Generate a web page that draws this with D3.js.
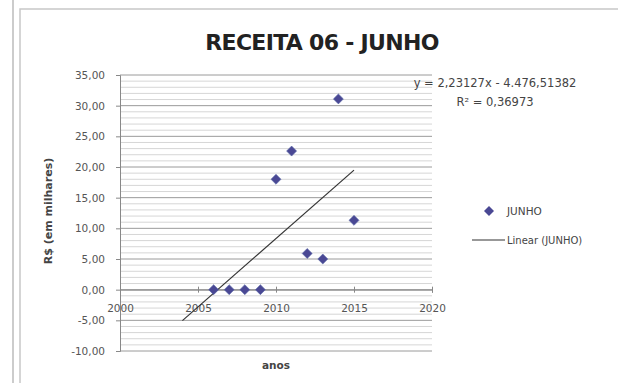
<!DOCTYPE html>
<html><head><meta charset="utf-8">
<script src="https://cdn.jsdelivr.net/npm/d3@7"></script>
<style>body{margin:0;background:#fff}svg{display:block}text{font-family:"DejaVu Sans",sans-serif}</style>
</head><body>
<script>
const years = [2006, 2007, 2008, 2009, 2010, 2011, 2012, 2013, 2014, 2015];
const values = [0, 0, 0, 0, 18.0, 22.6, 5.9, 5.0, 31.1, 11.3];
const trendCoef = [2.23127, -4476.51382];
const trendRange = [2004, 2015];
const yTicks = [-10, -5, 0, 5, 10, 15, 20, 25, 30, 35];
const xTicks = [2000, 2005, 2010, 2015, 2020];
const titleText = "RECEITA 06 - JUNHO";
const eqText = "y = 2,23127x - 4.476,51382";
const r2Text = "R² = 0,36973";
const seriesName = "JUNHO";
const trendName = "Linear (JUNHO)";
const yTitle = "R$ (em milhares)";
const xTitle = "anos";

const W = 618, H = 383;
const svg = d3.select("body").append("svg").attr("width", W).attr("height", H);

// frame
svg.append("line").attr("x1",13).attr("x2",13).attr("y1",0).attr("y2",H).attr("stroke","#bbb").attr("stroke-width",1.5);
svg.append("rect").attr("x",20).attr("y",9).attr("width",W).attr("height",H).attr("fill","none").attr("stroke","#c8c8c8").attr("stroke-width",1.5);

const x = d3.scaleLinear().domain([2000, 2020]).range([120, 432]);
const y = d3.scaleLinear().domain([-10, 35]).range([351, 75]);

// minor grid
const minor = d3.range(-10, 36, 1);
svg.append("g").selectAll("line").data(minor).join("line")
  .attr("x1", x(2000)).attr("x2", x(2020))
  .attr("y1", d => y(d)).attr("y2", d => y(d))
  .attr("stroke", d => d % 5 === 0 ? "#9a9a9a" : "#d6d6d6").attr("stroke-width", 1);

// y axis
const yAxis = d3.axisLeft(y).tickValues(yTicks).tickSize(4)
  .tickFormat(d => d3.format(".2f")(d).replace(".", ",").replace("\u2212", "-"));
const gy = svg.append("g").attr("transform", `translate(${x(2000)},0)`).call(yAxis);
gy.select(".domain").attr("stroke", "#888");
gy.selectAll(".tick line").attr("stroke", "#888");
gy.selectAll(".tick text").attr("font-size", 10.5).attr("fill", "#555").attr("x", -15)
  .attr("font-family", '"DejaVu Sans", sans-serif');

// x axis at y=0
const xAxis = d3.axisBottom(x).tickValues(xTicks).tickSize(3).tickFormat(d3.format("d"));
const gx = svg.append("g").attr("transform", `translate(0,${y(0)})`).call(xAxis);
gx.select(".domain").attr("stroke", "#888");
gx.selectAll(".tick line").attr("stroke", "#888").attr("y1", -3);
gx.selectAll(".tick text").attr("font-size", 10.5).attr("fill", "#555").attr("dy", "1.55em")
  .attr("font-family", '"DejaVu Sans", sans-serif');

// trend line
svg.append("line")
  .attr("x1", x(trendRange[0])).attr("y1", y(trendCoef[0]*trendRange[0] + trendCoef[1]))
  .attr("x2", x(trendRange[1])).attr("y2", y(trendCoef[0]*trendRange[1] + trendCoef[1]))
  .attr("stroke", "#333").attr("stroke-width", 1.2);

// points
const diamond = d3.symbol().type(d3.symbolDiamond2).size(64);
svg.append("g").selectAll("path").data(years).join("path")
  .attr("d", diamond)
  .attr("transform", (d,i) => `translate(${x(d)},${y(values[i])})`)
  .attr("fill", "#4a4894").attr("stroke", "#5a6aa8").attr("stroke-width", 0.6);

// title
svg.append("text").attr("x", 322).attr("y", 50).attr("text-anchor","middle")
  .attr("font-size", 22).attr("font-weight","bold").attr("fill","#222")
  .attr("font-family", '"Open Sans", sans-serif').attr("letter-spacing", -0.7).text(titleText);

// equation
svg.append("text").attr("x", 495).attr("y", 87).attr("text-anchor","middle").attr("font-size",11.5).attr("fill","#444").text(eqText);
svg.append("text").attr("x", 495).attr("y", 106).attr("text-anchor","middle").attr("font-size",11.5).attr("fill","#444").text(r2Text);

// axis titles
svg.append("text").attr("transform","translate(52,211) rotate(-90)").attr("text-anchor","middle")
  .attr("font-size",11).attr("font-weight","bold").attr("fill","#444").text(yTitle);
svg.append("text").attr("x", 276).attr("y", 369).attr("text-anchor","middle")
  .attr("font-size",10.5).attr("font-weight","bold").attr("fill","#444").text(xTitle);

// legend
svg.append("path").attr("d", diamond).attr("transform","translate(489,211)").attr("fill","#4a4894");
svg.append("text").attr("x",507).attr("y",215).attr("font-size",10.5).attr("fill","#444").text(seriesName);
svg.append("line").attr("x1",472).attr("x2",505).attr("y1",240).attr("y2",240).attr("stroke","#333").attr("stroke-width",1.2);
svg.append("text").attr("x",507).attr("y",244).attr("font-size",10).attr("fill","#444").text(trendName);
</script>
</body></html>
